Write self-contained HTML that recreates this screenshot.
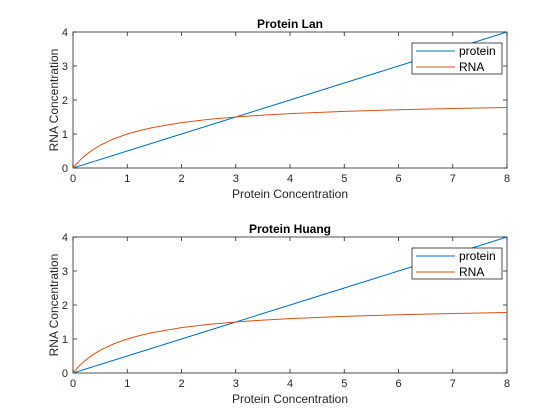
<!DOCTYPE html>
<html><head><meta charset="utf-8"><style>
body{margin:0;background:#fff;}
svg{display:block;font-family:"Liberation Sans",sans-serif;}
</style></head><body>
<svg id="fig" width="560" height="420"></svg>
<script>
const xTicks=[0,1,2,3,4,5,6,7,8];
const yTicks=[0,1,2,3,4];
const xVals=[0,0.05,0.1,0.15,0.2,0.3,0.4,0.5,0.75,1,1.25,1.5,2,2.5,3,3.5,4,5,6,7,8];
const proteinVals=[0,0.025,0.05,0.075,0.1,0.15,0.2,0.25,0.375,0.5,0.625,0.75,1,1.25,1.5,1.75,2,2.5,3,3.5,4];
const rnaVals=[0,0.095,0.182,0.261,0.333,0.462,0.571,0.667,0.857,1,1.111,1.2,1.333,1.429,1.5,1.556,1.6,1.667,1.714,1.75,1.778];
const titles=["Protein Lan","Protein Huang"];
const legendLabels=["protein","RNA"];
const NS="http://www.w3.org/2000/svg";
const svg=document.getElementById('fig');
function mk(t,a,p){const e=document.createElementNS(NS,t);for(const k in a)e.setAttribute(k,a[k]);(p||svg).appendChild(e);return e;}
const L=73,R=507,colors=["#0072BD","#D95319"];
[[32,168],[237,373]].forEach((b,i)=>{
 const T=b[0],B=b[1];
 const g=mk('g',{});
 
 
 const sx=v=>L+(v-0)/(8-0)*(R-L), sy=v=>B-(v-0)/4*(B-T);
 const bx=mk('rect',{x:L,y:T,width:R-L,height:B-T,fill:'#fff',stroke:'#262626','stroke-width':0.8},g);
 
 
 xTicks.forEach(v=>{const x=sx(v);
  mk('line',{x1:x,x2:x,y1:B,y2:B-4,stroke:'#262626','stroke-width':0.8},g);
  mk('line',{x1:x,x2:x,y1:T,y2:T+4,stroke:'#262626','stroke-width':0.8},g);
  const t=mk('text',{x:x,y:B+14,'text-anchor':'middle','font-size':11,fill:'#262626'},g);t.textContent=v;
  
  });
 yTicks.forEach(v=>{const y=sy(v);
  mk('line',{x1:L,x2:L+4,y1:y,y2:y,stroke:'#262626','stroke-width':0.8},g);
  mk('line',{x1:R,x2:R-4,y1:y,y2:y,stroke:'#262626','stroke-width':0.8},g);
  const t=mk('text',{x:L-5,y:y+4,'text-anchor':'end','font-size':11,fill:'#262626'},g);t.textContent=v;
  
  });
 [proteinVals,rnaVals].forEach((s,k)=>{
  const p=mk('polyline',{points:xVals.map((x,j)=>sx(x)+','+sy(s[j])).join(' '),fill:'none',stroke:colors[k],'stroke-width':1},g);
  
  });
 const tt=mk('text',{x:(L+R)/2,y:T-4,'text-anchor':'middle','font-size':12,'font-weight':'bold',fill:'#000'},g);tt.textContent=titles[i];
 
 
 const xl=mk('text',{x:(L+R)/2,y:B+30,'text-anchor':'middle','font-size':12,fill:'#262626'},g);xl.textContent="Protein Concentration";
 
 
 const yl=mk('text',{x:0,y:0,'text-anchor':'middle','font-size':12,fill:'#262626',transform:`translate(58,${(T+B)/2}) rotate(-90)`},g);yl.textContent="RNA Concentration";
 
 
 const lg=mk('g',{},g);
 
 
 mk('rect',{x:412,y:T+11,width:90,height:31,fill:'#fff',stroke:'#262626','stroke-width':0.8},lg);
 legendLabels.forEach((lab,k)=>{const y=T+19+k*16;
  mk('line',{x1:416,x2:455,y1:y,y2:y,stroke:colors[k],'stroke-width':1},lg);
  const t=mk('text',{x:459,y:y+4,'font-size':12,fill:'#000'},lg);t.textContent=lab;
  
  });
});
</script>
</body></html>
